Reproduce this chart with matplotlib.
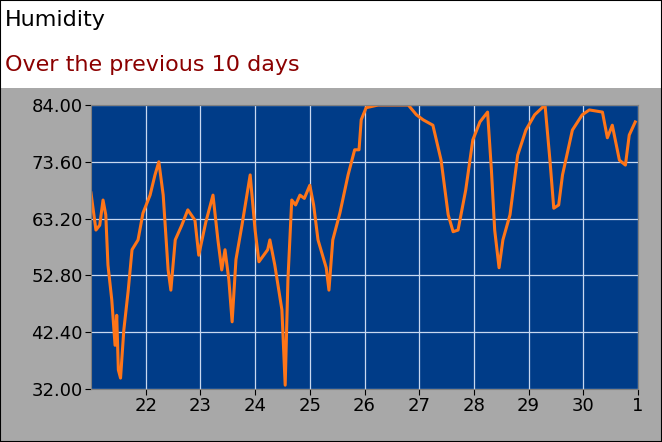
import matplotlib.pyplot as plt
from matplotlib.patches import Rectangle

days = [21.0, 21.09, 21.16, 21.22, 21.27, 21.31, 21.38, 21.44, 21.47, 21.5, 21.54, 21.6, 21.68,
        21.75, 21.86, 21.95, 22.08, 22.17, 22.24, 22.32, 22.41, 22.46, 22.54, 22.66, 22.77,
        22.9, 22.97, 23.1, 23.23, 23.32, 23.39, 23.45, 23.52, 23.58, 23.65, 23.76, 23.91,
        24.0, 24.07, 24.23, 24.27, 24.36, 24.49, 24.55, 24.6, 24.67, 24.74, 24.82, 24.9,
        25.0, 25.07, 25.15, 25.3, 25.35, 25.42, 25.55, 25.7, 25.82, 25.9, 25.94, 26.03,
        26.25, 26.8, 26.95, 27.07, 27.25, 27.4, 27.53, 27.62, 27.71, 27.85, 27.98, 28.11,
        28.25, 28.32, 28.38, 28.46, 28.53, 28.66, 28.8, 28.95, 29.11, 29.3, 29.39, 29.46,
        29.55, 29.62, 29.8, 29.98, 30.11, 30.35, 30.44, 30.53, 30.66, 30.77, 30.84, 30.95]
humidity = [67.9, 61.1, 62.0, 66.6, 63.9, 54.7, 48.3, 40.0, 45.5, 35.5, 34.0, 42.8, 50.0,
            57.5, 59.3, 64.2, 67.5, 71.2, 73.6, 67.5, 53.8, 50.1, 59.3, 62.0, 64.8,
            62.9, 56.5, 62.6, 67.5, 59.3, 53.8, 57.5, 52.0, 44.3, 55.7, 62.0, 71.2,
            61.1, 55.3, 57.5, 59.3, 54.7, 46.5, 32.7, 52.0, 66.6, 65.7, 67.5, 66.9,
            69.3, 65.7, 59.3, 54.2, 50.1, 59.3, 64.2, 71.2, 75.8, 75.8, 81.3, 83.5,
            84.0, 84.0, 82.2, 81.3, 80.3, 73.9, 63.9, 60.8, 61.1, 68.4, 77.6, 80.9,
            82.7, 72.1, 61.1, 54.2, 59.3, 63.9, 74.8, 79.4, 82.2, 84.0, 73.9, 65.1,
            65.7, 71.2, 79.4, 82.2, 83.1, 82.7, 78.0, 80.3, 73.9, 73.0, 78.5, 80.9]

xticks = [22, 23, 24, 25, 26, 27, 28, 29, 30, 31]
xlabels = ["22", "23", "24", "25", "26", "27", "28", "29", "30", "1"]
yticks = [32.0, 42.4, 52.8, 63.2, 73.6, 84.0]

plt.rcParams['font.family'] = ['DejaVu Sans']

fig = plt.figure(figsize=(6.62, 4.42), dpi=100)
fig.patches.append(Rectangle((0, 0), 1, 354 / 442, transform=fig.transFigure,
                             facecolor='#a8a8a8', edgecolor='none', zorder=-1))
fig.text(0.008, 0.955, "Humidity", fontsize=16, color='black', va='center')
fig.text(0.008, 0.853, "Over the previous 10 days", fontsize=16, color='#8b0000', va='center')

ax = fig.add_axes([91 / 662, 53 / 442, 547 / 662, 284 / 442])
ax.set_facecolor('#003c88')
ax.plot(days, humidity, color='#ff7518', linewidth=2.2)
ax.set_xlim(21, 31)
ax.set_ylim(32, 84)
ax.set_xticks(xticks)
ax.set_xticklabels(xlabels)
ax.set_yticks(yticks)
ax.set_yticklabels([f"{v:.2f}" for v in yticks])
ax.grid(True, color='#c8d8f0', linewidth=0.9)
ax.tick_params(labelsize=13, length=4, colors='black', pad=2)
for s in ax.spines.values():
    s.set_color('#808080')

fig.patches.append(Rectangle((0, 0), 1, 1, transform=fig.transFigure, fill=False,
                             edgecolor='black', linewidth=1.5, zorder=10))
fig.savefig('out.png', dpi=100)
